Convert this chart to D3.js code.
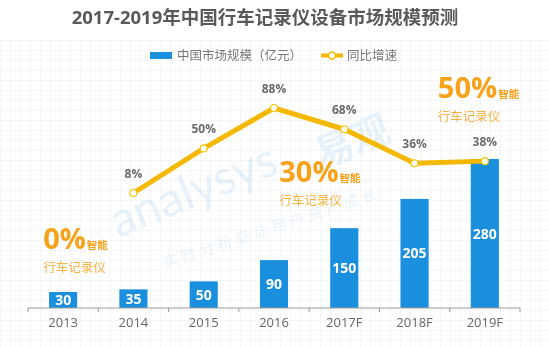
<!DOCTYPE html>
<html><head><meta charset="utf-8">
<script src="https://cdn.jsdelivr.net/npm/d3@7"></script>
<style>
html,body{margin:0;padding:0;background:#fff;}
svg{display:block;font-family:"Open Sans","Noto Sans CJK SC",sans-serif;}
</style></head>
<body>
<svg id="chart" width="549" height="347"></svg>
<script>
const categories = ["2013","2014","2015","2016","2017F","2018F","2019F"];
const marketSize = [30,35,50,90,150,205,280];
const growthRate = [null,8,50,88,68,36,38];
const titleText = "2017-2019年中国行车记录仪设备市场规模预测";
const legendLabels = ["中国市场规模（亿元）","同比增速"];
const annotations = [
  {cat:"2013", big:"0%", dx:-20, y:249},
  {cat:"2017F", big:"30%", dx:-65, y:182},
  {cat:"2019F", big:"50%", dx:-47, y:98}
];

const W = 549, H = 347;
const svg = d3.select("#chart");

// graph-paper background
const defs = svg.append("defs");
const pat = defs.append("pattern").attr("id","grid").attr("width",10).attr("height",10)
  .attr("patternUnits","userSpaceOnUse");
pat.append("path").attr("d","M10 0 L0 0 0 10").attr("fill","none").attr("stroke","#e9eef3").attr("stroke-width",1);
svg.append("rect").attr("width",W).attr("height",H).attr("fill","#fff");
svg.append("rect").attr("y",40).attr("width",W).attr("height",H-40).attr("fill","url(#grid)");

const x = d3.scaleBand().domain(categories).range([28,520]).paddingInner(0.6).paddingOuter(0.3);
const yBar = d3.scaleLinear().domain([0,280]).range([308,159]);
const yLine = d3.scaleLinear().domain([0,88]).range([201.5,108]);
const cx = c => x(c) + x.bandwidth()/2;

// watermark
const wm = svg.append("g").attr("opacity",0.2);
wm.append("text").attr("transform","translate(118,238) rotate(-22)")
  .attr("font-size",48).attr("font-family","Lato, sans-serif")
  .attr("fill","#8cbde3").text("analysys");
wm.append("text").attr("transform","translate(322,168) rotate(-22)")
  .attr("font-size",38).attr("font-weight","bold").attr("fill","#8cbde3").text("易观");
wm.append("text").attr("transform","translate(165,268) rotate(-18)")
  .attr("font-size",15).attr("fill","#9cc7e6").attr("letter-spacing",4).text("实时分析驱动用户资产成长");

// title
svg.append("text").attr("x",265).attr("y",24).attr("text-anchor","middle")
  .attr("font-size",18.5).attr("font-weight","bold").attr("fill","#595959").text(titleText);

// legend
const lg = svg.append("g");
lg.append("rect").attr("x",150).attr("y",52).attr("width",22).attr("height",7).attr("fill","#1a8fdd");
lg.append("text").attr("x",177).attr("y",60).attr("font-size",12.5).attr("fill","#777").text(legendLabels[0]);
lg.append("line").attr("x1",321).attr("x2",343).attr("y1",55.5).attr("y2",55.5).attr("stroke","#f5b800").attr("stroke-width",4);
lg.append("circle").attr("cx",332).attr("cy",55.5).attr("r",3.5).attr("fill","#fff").attr("stroke","#f5b800").attr("stroke-width",1.5);
lg.append("text").attr("x",347).attr("y",60).attr("font-size",12.5).attr("fill","#777").text(legendLabels[1]);

// bars
const barData = categories.map((c,i)=>({c, v:marketSize[i]}));
svg.append("g").selectAll("rect").data(barData).join("rect")
  .attr("x",d=>x(d.c)).attr("width",x.bandwidth())
  .attr("y",d=>yBar(d.v)).attr("height",d=>yBar(0)-yBar(d.v))
  .attr("fill","#1a8fdd");
svg.append("g").selectAll("text").data(barData).join("text")
  .attr("x",d=>cx(d.c)).attr("y",d=>(yBar(d.v)+yBar(0))/2+5)
  .attr("text-anchor","middle").attr("font-size",14).attr("font-weight","bold").attr("fill","#fff")
  .text(d=>d.v);

// axis
const axis = d3.axisBottom(x).tickSize(0).tickPadding(10);
const ag = svg.append("g").attr("transform",`translate(0,${yBar(0)})`).call(axis);
ag.select(".domain").attr("stroke","#9a9a9a").attr("d","M28,0H520");
ag.selectAll(".tick text").attr("font-size",13).attr("fill","#666").attr("font-family","Open Sans, sans-serif");
const bounds = [28, ...categories.map(c=>x(c)+x.bandwidth()+x.step()*0.3)];
ag.selectAll("line.bt").data(bounds).join("line").attr("class","bt")
  .attr("x1",d=>d).attr("x2",d=>d).attr("y1",0).attr("y2",4).attr("stroke","#9a9a9a");

// line
const lineData = categories.map((c,i)=>({c, v:growthRate[i]})).filter(d=>d.v!==null);
svg.append("path").datum(lineData)
  .attr("d", d3.line().x(d=>cx(d.c)).y(d=>yLine(d.v)))
  .attr("fill","none").attr("stroke","#f5b800").attr("stroke-width",5).attr("stroke-linejoin","round");
svg.append("g").selectAll("circle").data(lineData).join("circle")
  .attr("cx",d=>cx(d.c)).attr("cy",d=>yLine(d.v)).attr("r",3.5)
  .attr("fill","#fff").attr("stroke","#f5c400").attr("stroke-width",1.2);
svg.append("g").selectAll("text").data(lineData).join("text")
  .attr("x",d=>cx(d.c)).attr("y",d=>yLine(d.v)-15)
  .attr("text-anchor","middle").attr("font-size",12).attr("font-weight","bold").attr("fill","#6b6b6b")
  .text(d=>d.v+"%");

// annotations
const an = svg.append("g").selectAll("g").data(annotations).join("g")
  .attr("transform",d=>`translate(${cx(d.cat)+d.dx},${d.y})`);
const t1 = an.append("text").attr("font-weight","bold").attr("fill","#f7a21b");
t1.append("tspan").attr("font-size",29).text(d=>d.big);
t1.append("tspan").attr("font-size",10.5).attr("dx",1).text("智能");
an.append("text").attr("y",23).attr("font-size",12.5).attr("fill","#f5b342").text("行车记录仪");
</script>
</body></html>
